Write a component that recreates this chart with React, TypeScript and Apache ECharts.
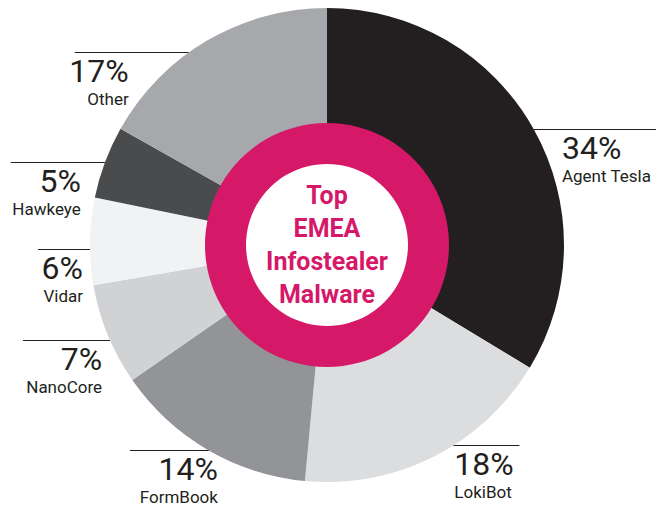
import React, { useEffect, useRef } from "react";
import * as echarts from "echarts";

// ---- data ----
const categories = ["Agent Tesla", "LokiBot", "FormBook", "NanoCore", "Vidar", "Hawkeye", "Other"];
const shares = [34, 18, 14, 7, 6, 5, 17];
const centerTitle = ["Top", "EMEA", "Infostealer", "Malware"];

// ---- styles ----
const sliceColors = ["#231f20", "#dcdddf", "#929497", "#d1d2d4", "#f1f2f3", "#4a4b4d", "#a6a8ab"];
const lineLengths = [130, 66, 79, 87, 52, 94, 114];
const lineYShift = [0, -12, 0, 5, 8, 0, 12];
const textShift = [28, 1, 9, -8, -7, -24, -60];

const FONT = "Roboto, 'Noto Sans', sans-serif";
const CX = 327;
const CY = 245;
const R = 237;
const PINK = "#d51968";
const INK = "#231f20";

export default function App() {
  const ref = useRef<HTMLDivElement>(null);

  useEffect(() => {
    if (!ref.current) return;
    const chart = echarts.init(ref.current, undefined, { renderer: "svg" });
    const total = shares.reduce((a, b) => a + b, 0);

    const option: any = {
      animation: false,
      backgroundColor: "#ffffff",
      series: [
        {
          type: "pie",
          center: [CX, CY],
          radius: [100, R],
          startAngle: 90,
          clockwise: true,
          silent: true,
          avoidLabelOverlap: false,
          data: categories.map((name, i) => ({
            name,
            value: shares[i],
            itemStyle: { color: sliceColors[i] },
          })),
          label: {
            show: true,
            position: "outside",
            formatter: (p: any) => `{pct|${p.value}%}\n{name|${p.name}}`,
            rich: {
              pct: { fontSize: 32, lineHeight: 36, fontFamily: FONT, color: INK },
              name: { fontSize: 17, lineHeight: 21, fontFamily: FONT, color: INK },
            },
          },
          labelLine: {
            show: true,
            length: 0,
            length2: 40,
            lineStyle: { color: INK, width: 1 },
          },
          labelLayout: (params: any) => {
            const i = params.dataIndex;
            let p0 = params.labelLinePoints && params.labelLinePoints[0];
            if (!p0) {
              let before = 0;
              for (let k = 0; k < i; k++) before += shares[k];
              const mid = ((before + shares[i] / 2) / total) * Math.PI * 2;
              p0 = [CX + R * Math.sin(mid), CY - R * Math.cos(mid)];
            }
            const right = p0[0] > CX;
            const y = Math.round(p0[1] + lineYShift[i]) + 0.5;
            const dx = Math.sqrt(Math.max(0, R * R - (y - CY) * (y - CY)));
            const sx = right ? CX + dx : CX - dx;
            const ex = right ? sx + lineLengths[i] : sx - lineLengths[i];
            return {
              x: sx + textShift[i],
              y: y,
              align: right ? "left" : "right",
              verticalAlign: "top",
              labelLinePoints: [
                [sx, y],
                [ex, y],
              ],
            };
          },
          z: 1,
        },
        {
          type: "pie",
          center: [CX, 245],
          radius: [81, 122],
          silent: true,
          data: [{ name: centerTitle.join("\n"), value: 1, itemStyle: { color: PINK } }],
          label: {
            show: true,
            position: "center",
            formatter: "{b}",
            color: PINK,
            fontSize: 25,
            fontWeight: "bold",
            lineHeight: 33,
            fontFamily: FONT,
          },
          labelLine: { show: false },
          z: 2,
        },
      ],
    };

    chart.setOption(option);
    return () => chart.dispose();
  }, []);

  return (
    <div
      ref={ref}
      style={{ position: "fixed", left: 0, top: 0, width: 656, height: 506 }}
    />
  );
}
